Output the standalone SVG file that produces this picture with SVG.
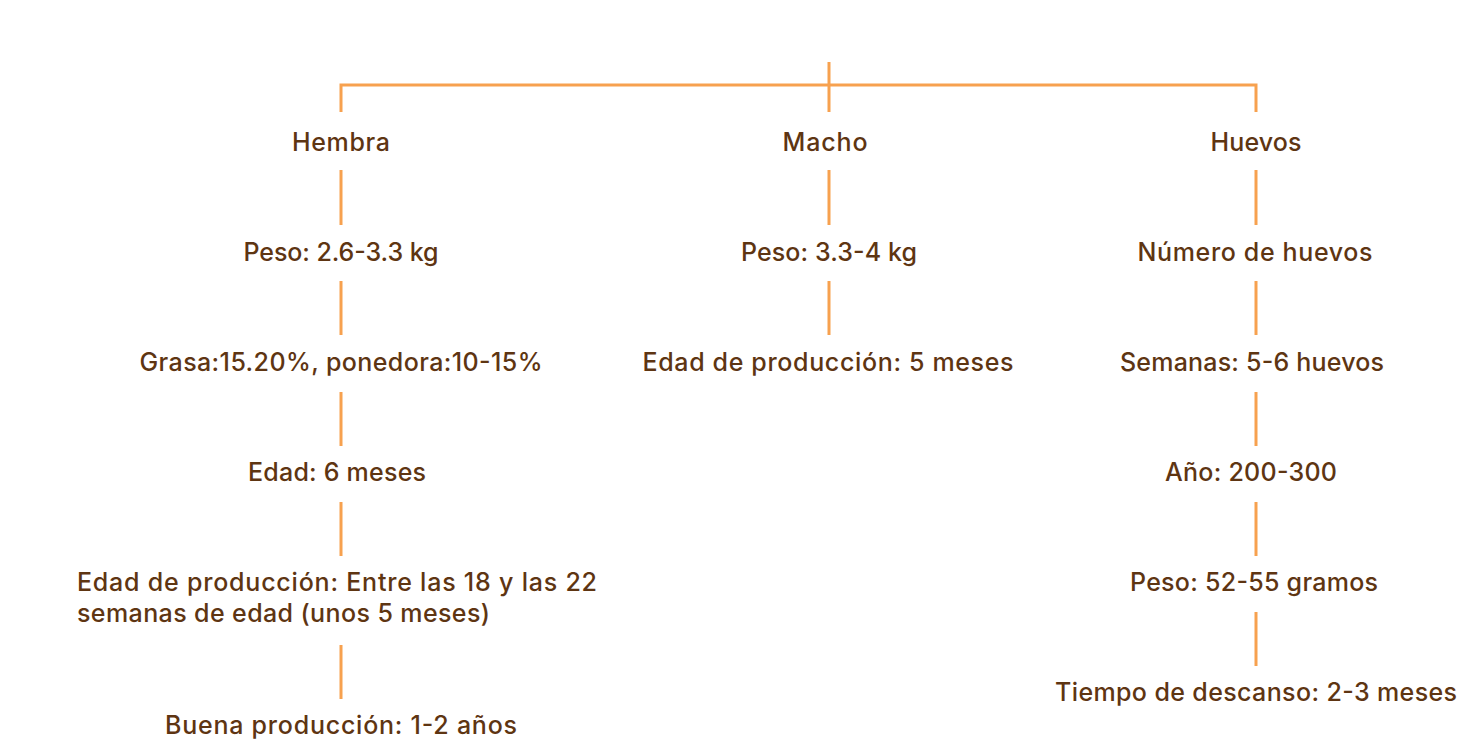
<svg xmlns="http://www.w3.org/2000/svg" width="1481" height="749" viewBox="0 0 1481 749">
<style>
.c{stroke:#F7A14F;stroke-width:3;fill:none}
.t{font-family:Inter,"Liberation Sans",sans-serif;font-size:25px;font-weight:500;fill:#5E3512;text-anchor:middle}
.l{text-anchor:start}
</style>
<rect width="1481" height="749" fill="#fff"/>
<g id="connectors">
<path class="c" d="M829 62V112M341 112V85H1256V112"/>
<path class="c" d="M341 170V225M341 281V335M341 392V446M341 502V556M341 645V699"/>
<path class="c" d="M829 170V225M829 281V335"/>
<path class="c" d="M1256 170V225M1256 281V335M1256 392V446M1256 502V556M1256 612V666"/>
</g>
<g id="hembra"><text class="t" x="341" y="151" textLength="98">Hembra</text></g>
<g id="h1"><text class="t" x="341" y="261" textLength="195">Peso: 2.6-3.3 kg</text></g>
<g id="h2"><text class="t" x="341" y="371" textLength="403">Grasa:15.20%, ponedora:10-15%</text></g>
<g id="h3"><text class="t" x="337" y="481" textLength="178">Edad: 6 meses</text></g>
<g id="h4"><text class="t l" x="77" y="591" textLength="520">Edad de producción: Entre las 18 y las 22</text><text class="t l" x="77" y="622" textLength="413">semanas de edad (unos 5 meses)</text></g>
<g id="h5"><text class="t" x="341" y="734" textLength="352">Buena producción: 1-2 años</text></g>
<g id="macho"><text class="t" x="825" y="151" textLength="85">Macho</text></g>
<g id="m1"><text class="t" x="829" y="261" textLength="176">Peso: 3.3-4 kg</text></g>
<g id="m2"><text class="t" x="828" y="371" textLength="371">Edad de producción: 5 meses</text></g>
<g id="huevos"><text class="t" x="1256" y="151" textLength="91">Huevos</text></g>
<g id="e1"><text class="t" x="1255" y="261" textLength="235">Número de huevos</text></g>
<g id="e2"><text class="t" x="1252" y="371" textLength="264">Semanas: 5-6 huevos</text></g>
<g id="e3"><text class="t" x="1251" y="481" textLength="172">Año: 200-300</text></g>
<g id="e4"><text class="t" x="1254" y="591" textLength="248">Peso: 52-55 gramos</text></g>
<g id="e5"><text class="t" x="1256" y="701" textLength="402">Tiempo de descanso: 2-3 meses</text></g>
</svg>
